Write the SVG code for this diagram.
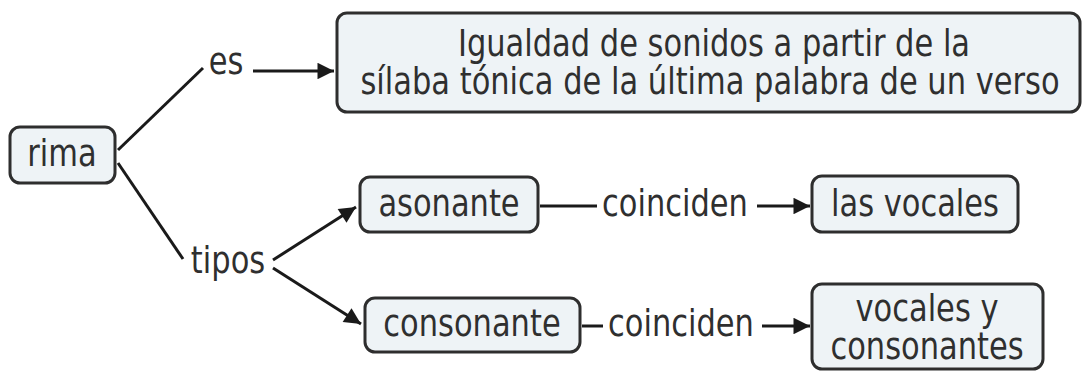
<svg xmlns="http://www.w3.org/2000/svg" width="1082" height="371" viewBox="0 0 1082 371">
<style>
.box{fill:#eef3f6;stroke:#2e2e2e;stroke-width:3}
.t{font-family:"DejaVu Sans","Liberation Sans",sans-serif;font-size:30.5px;fill:#2f2f2f;text-anchor:middle}
.c{stroke:#1a1a1a;stroke-width:3;fill:none}
</style>
<defs>
<marker id="ah" viewBox="0 0 10 10" refX="10" refY="5" markerWidth="7" markerHeight="5.5" markerUnits="strokeWidth" orient="auto">
<path d="M0,0 L10,5 L0,10 z" fill="#1a1a1a"/>
</marker>
</defs>
<g id="connectors">
<line class="c" x1="118" y1="150" x2="203" y2="68"/>
<line class="c" x1="253" y1="71" x2="334" y2="71" marker-end="url(#ah)"/>
<line class="c" x1="118" y1="163" x2="183" y2="259"/>
<line class="c" x1="273" y1="260" x2="356" y2="207" marker-end="url(#ah)"/>
<line class="c" x1="273" y1="268" x2="361" y2="324" marker-end="url(#ah)"/>
<line class="c" x1="540" y1="206" x2="597" y2="206"/>
<line class="c" x1="757" y1="206" x2="810" y2="206" marker-end="url(#ah)"/>
<line class="c" x1="582" y1="326" x2="603" y2="326"/>
<line class="c" x1="762" y1="326" x2="810" y2="326" marker-end="url(#ah)"/>
<g transform="translate(226,74) scale(1,1.2)"><text class="t">es</text></g>
<g transform="translate(228,273) scale(1,1.2)"><text class="t">tipos</text></g>
<g transform="translate(675,216) scale(1,1.2)"><text class="t">coinciden</text></g>
<g transform="translate(681,336) scale(1,1.2)"><text class="t">coinciden</text></g>
</g>
<g id="rima">
<rect class="box" x="10" y="127" width="105" height="56" rx="10"/>
<g transform="translate(62,166) scale(1,1.2)"><text class="t">rima</text></g>
</g>
<g id="definicion">
<rect class="box" x="337" y="13" width="743" height="99" rx="10"/>
<g transform="translate(714,56) scale(1,1.2)"><text class="t">Igualdad de sonidos a partir de la</text></g>
<g transform="translate(710,94) scale(1,1.2)"><text class="t">sílaba tónica de la última palabra de un verso</text></g>
</g>
<g id="asonante">
<rect class="box" x="360" y="177" width="178" height="55" rx="10"/>
<g transform="translate(449,216) scale(1,1.2)"><text class="t">asonante</text></g>
</g>
<g id="las-vocales">
<rect class="box" x="812" y="176" width="206" height="56" rx="10"/>
<g transform="translate(915,216) scale(1,1.2)"><text class="t">las vocales</text></g>
</g>
<g id="consonante">
<rect class="box" x="365" y="298" width="215" height="54" rx="10"/>
<g transform="translate(472,336) scale(1,1.2)"><text class="t">consonante</text></g>
</g>
<g id="vocales-consonantes">
<rect class="box" x="812" y="284" width="231" height="85" rx="10"/>
<g transform="translate(927,321) scale(1,1.2)"><text class="t">vocales y</text></g>
<g transform="translate(927,359) scale(1,1.2)"><text class="t">consonantes</text></g>
</g>
</svg>
